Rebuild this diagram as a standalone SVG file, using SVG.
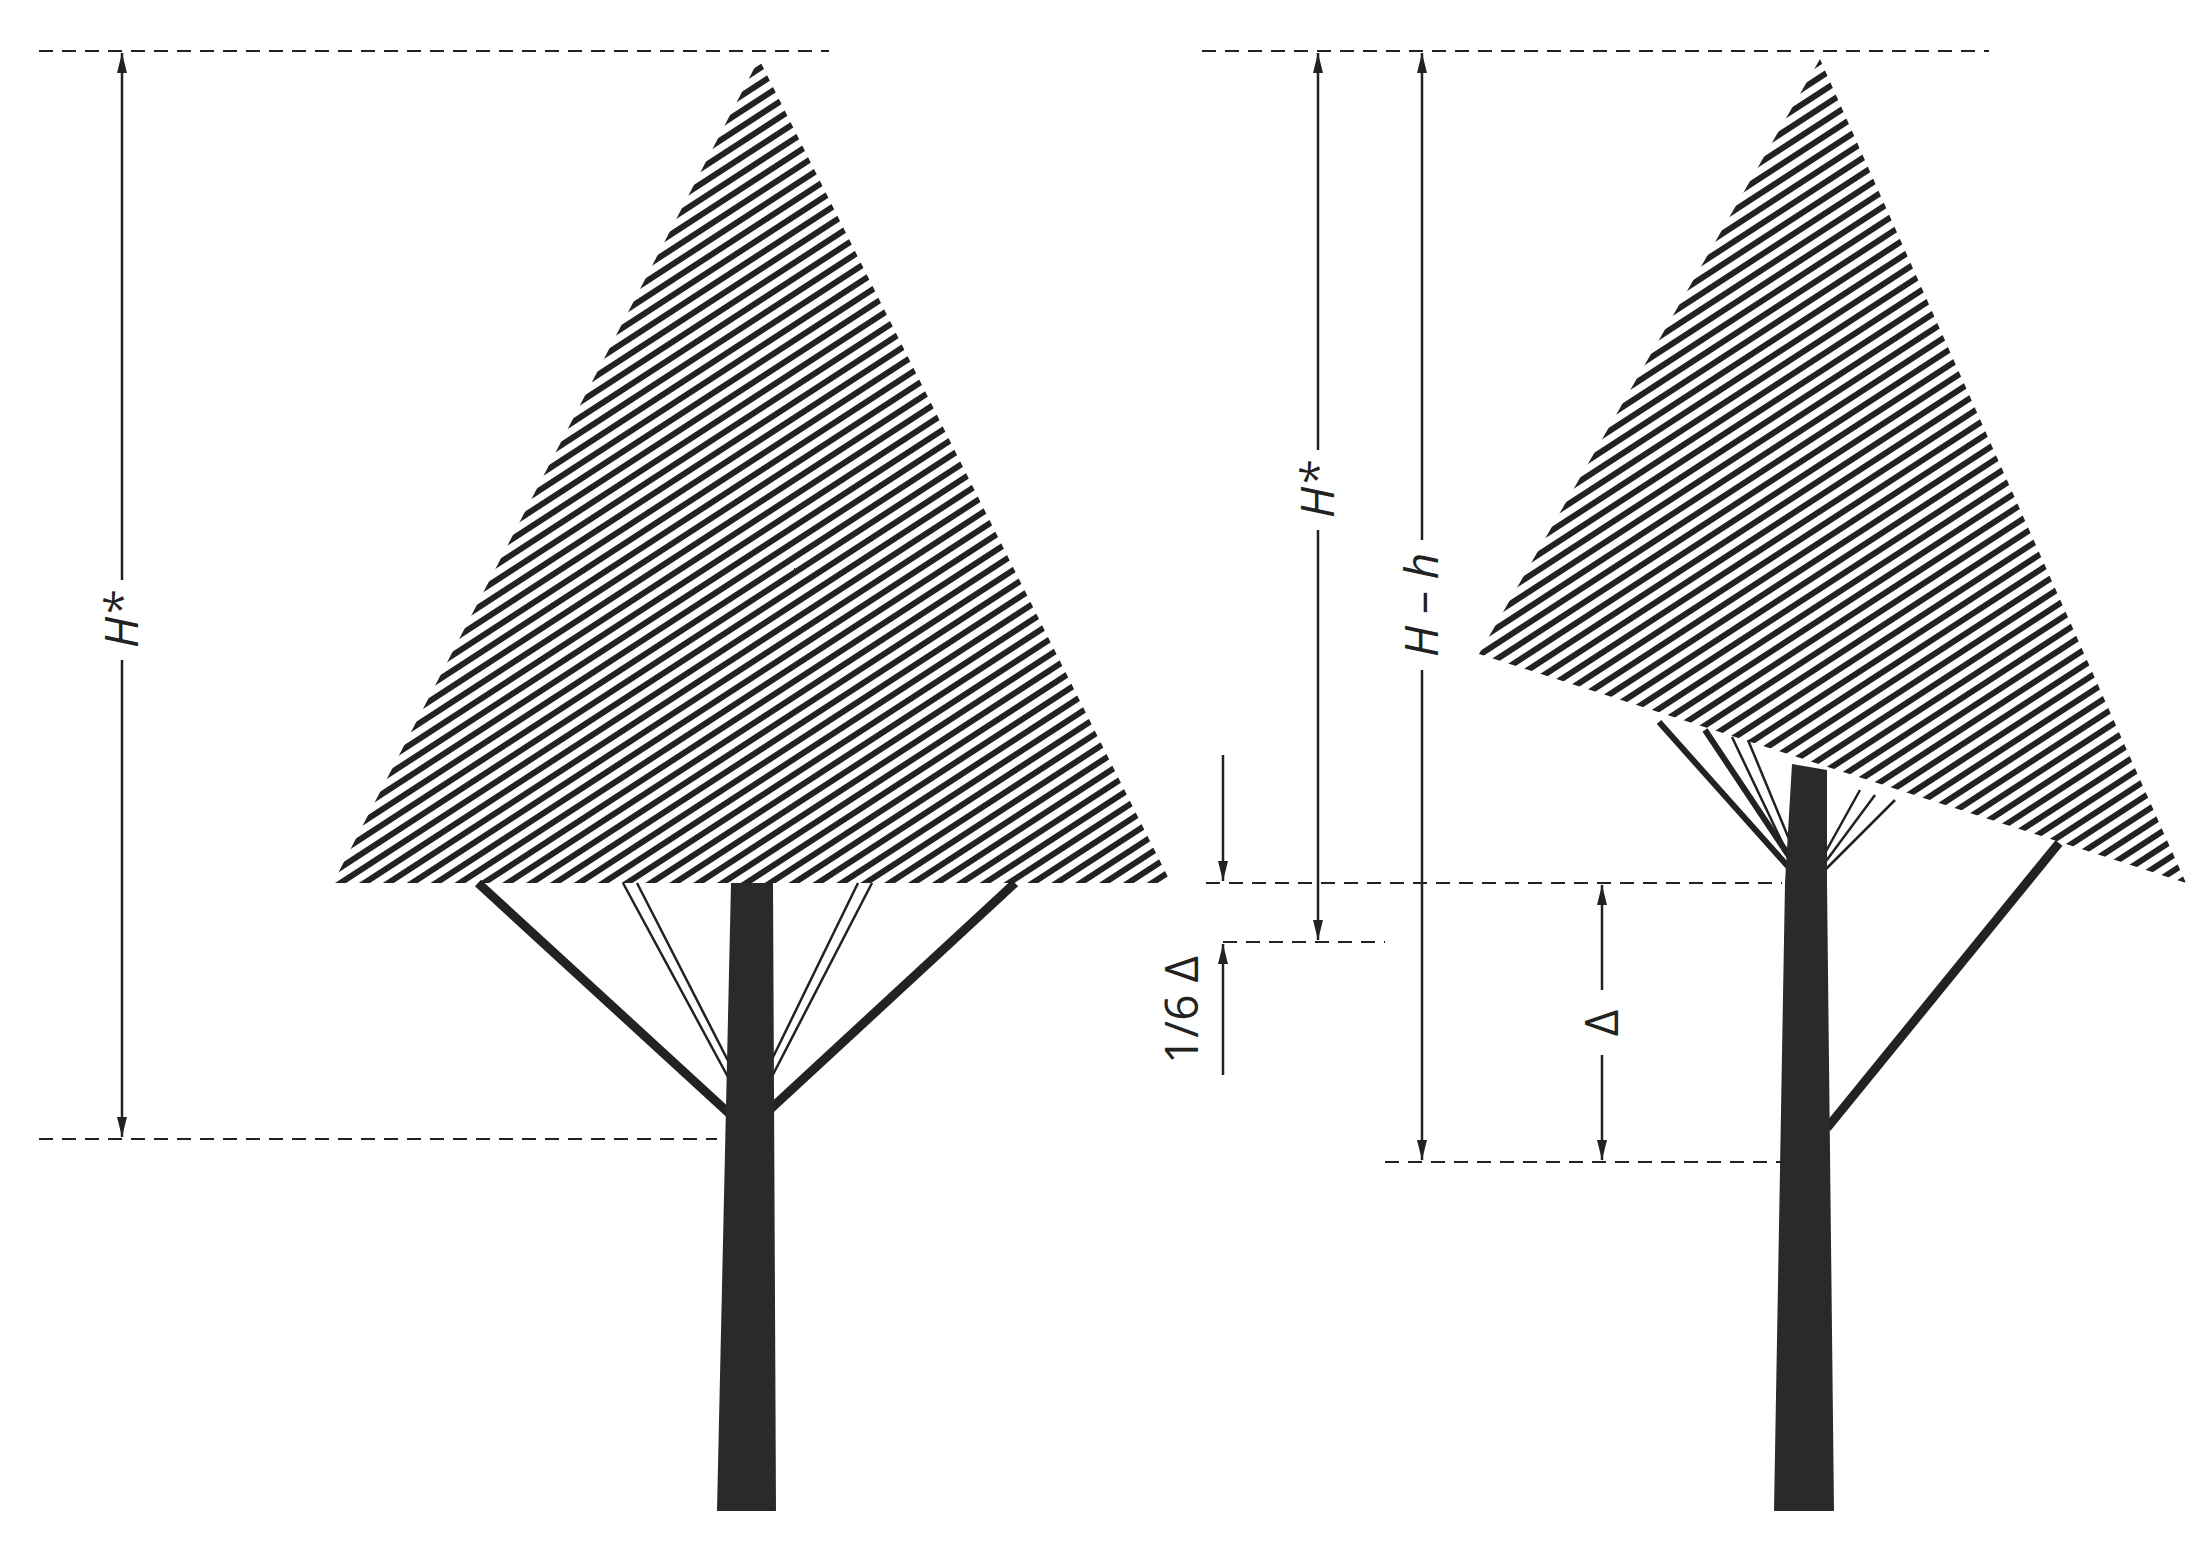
<svg xmlns="http://www.w3.org/2000/svg" width="2204" height="1542" viewBox="0 0 2204 1542">
<defs>
<pattern id="hatch" patternUnits="userSpaceOnUse" width="40" height="13" patternTransform="rotate(-33)">
<rect x="0" y="0" width="40" height="6" fill="#222"/>
</pattern>
<marker id="ah2" viewBox="0 0 20 10" refX="20" refY="5" markerWidth="20" markerHeight="12" markerUnits="userSpaceOnUse" orient="auto-start-reverse">
<path d="M0,0 L20,5 L0,10 Z" fill="#222"/>
</marker>
</defs>
<style>
.dash{stroke:#222;stroke-width:2.2;stroke-dasharray:14 9;fill:none}
.dim{stroke:#222;stroke-width:2.5;fill:none}
.br{stroke:#222;stroke-width:9;fill:none;stroke-linecap:butt}
.dbl{stroke:#222;stroke-width:2.5;fill:none}
.lbl{font-family:"Open Sans","Liberation Sans",sans-serif;font-size:46px;fill:#222}
</style>
<rect width="2204" height="1542" fill="#fff"/>
<g id="tree-left">
<polygon points="759,59 1171,883 333,883" fill="url(#hatch)"/>
<line class="br" x1="745" y1="1128" x2="478" y2="883"/>
<line class="br" x1="750" y1="1128" x2="1015" y2="883"/>
<path class="dbl" d="M735,1090 L623,883 M743,1090 L637,883 M757,1090 L858,883 M765,1090 L872,883"/>
<polygon points="731,883 773,883 776,1511 717,1511" fill="#2a2a2a"/>
</g>
<g id="tree-right">
<polygon points="1820,59 2186,883 1479,654" fill="url(#hatch)"/>
<line class="br" x1="1827" y1="1128" x2="2059" y2="843"/>
<path class="br" style="stroke-width:6" d="M1800,880 L1659,722 M1805,880 L1705,730"/>
<path class="dbl" d="M1800,880 L1732,737 M1806,880 L1748,740 M1810,880 L1860,790 M1812,880 L1875,795 M1815,880 L1895,800"/>
<polygon points="1792,764 1827,770 1827,883 1834,1511 1774,1511 1785,883" fill="#2a2a2a"/>
</g>
<g id="connectors">
<line class="dash" x1="39" y1="51" x2="829" y2="51"/>
<line class="dash" x1="1202" y1="51" x2="1989" y2="51"/>
<line class="dash" x1="39" y1="1139" x2="717" y2="1139"/>
<line class="dash" x1="1206" y1="883" x2="1782" y2="883"/>
<line class="dash" x1="1223" y1="942" x2="1385" y2="942"/>
<line class="dash" x1="1385" y1="1162" x2="1782" y2="1162"/>
<line class="dim" x1="122" y1="53" x2="122" y2="580" marker-start="url(#ah2)"/>
<line class="dim" x1="122" y1="660" x2="122" y2="1137" marker-end="url(#ah2)"/>
<line class="dim" x1="1223" y1="755" x2="1223" y2="881" marker-end="url(#ah2)"/>
<line class="dim" x1="1223" y1="1075" x2="1223" y2="944" marker-end="url(#ah2)"/>
<line class="dim" x1="1318" y1="53" x2="1318" y2="450" marker-start="url(#ah2)"/>
<line class="dim" x1="1318" y1="530" x2="1318" y2="940" marker-end="url(#ah2)"/>
<line class="dim" x1="1422" y1="53" x2="1422" y2="540" marker-start="url(#ah2)"/>
<line class="dim" x1="1422" y1="670" x2="1422" y2="1160" marker-end="url(#ah2)"/>
<line class="dim" x1="1602" y1="885" x2="1602" y2="990" marker-start="url(#ah2)"/>
<line class="dim" x1="1602" y1="1055" x2="1602" y2="1160" marker-end="url(#ah2)"/>
</g>
<g id="labels">
<text class="lbl" transform="translate(138,620) rotate(-90)" text-anchor="middle" font-style="italic">H*</text>
<text class="lbl" transform="translate(1334,490) rotate(-90)" text-anchor="middle" font-style="italic">H*</text>
<text class="lbl" transform="translate(1438,605) rotate(-90)" text-anchor="middle"><tspan font-style="italic">H</tspan> – <tspan font-style="italic">h</tspan></text>
<text class="lbl" transform="translate(1618,1023) rotate(-90)" text-anchor="middle">Δ</text>
<text class="lbl" transform="translate(1198,1010) rotate(-90)" text-anchor="middle">1/6 Δ</text>
</g>
</svg>
